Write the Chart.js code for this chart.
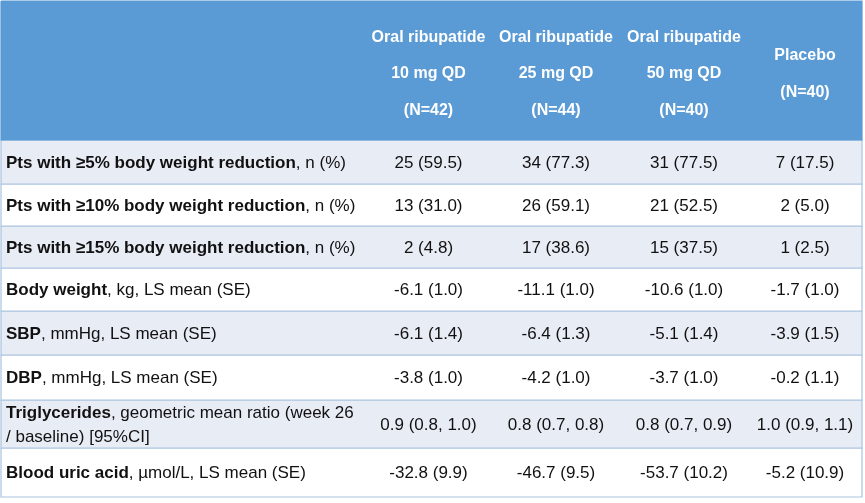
<!DOCTYPE html>
<html>
<head>
<meta charset="utf-8">
<script src="https://cdn.jsdelivr.net/npm/chart.js@4.4.1/dist/chart.umd.min.js"></script>
<style>
  html, body { margin: 0; padding: 0; background: #ffffff; }
  #wrap { width: 865px; height: 503px; }
</style>
</head>
<body>
<div id="wrap"><canvas id="chart"></canvas></div>
<script>
// table content
const armNames = ["Oral ribupatide", "Oral ribupatide", "Oral ribupatide", "Placebo"];
const armDoses = ["10 mg QD", "25 mg QD", "50 mg QD", ""];
const armN = [42, 44, 40, 40];

const rowBold = [
    "Pts with \u22655% body weight reduction",
    "Pts with \u226510% body weight reduction",
    "Pts with \u226515% body weight reduction",
    "Body weight",
    "SBP",
    "DBP",
    "Triglycerides",
    "Blood uric acid"
];
const rowRest = [
    ", n (%)",
    ", n (%)",
    ", n (%)",
    ", kg, LS mean (SE)",
    ", mmHg, LS mean (SE)",
    ", mmHg, LS mean (SE)",
    ", geometric mean ratio (week 26|/ baseline) [95%CI]",
    ", \u00b5mol/L, LS mean (SE)"
];

const dose10 = ["25 (59.5)", "13 (31.0)", "2 (4.8)", "-6.1 (1.0)", "-6.1 (1.4)", "-3.8 (1.0)", "0.9 (0.8, 1.0)", "-32.8 (9.9)"];
const dose25 = ["34 (77.3)", "26 (59.1)", "17 (38.6)", "-11.1 (1.0)", "-6.4 (1.3)", "-4.2 (1.0)", "0.8 (0.7, 0.8)", "-46.7 (9.5)"];
const dose50 = ["31 (77.5)", "21 (52.5)", "15 (37.5)", "-10.6 (1.0)", "-5.1 (1.4)", "-3.7 (1.0)", "0.8 (0.7, 0.9)", "-53.7 (10.2)"];
const placebo = ["7 (17.5)", "2 (5.0)", "1 (2.5)", "-1.7 (1.0)", "-3.9 (1.5)", "-0.2 (1.1)", "1.0 (0.9, 1.1)", "-5.2 (10.9)"];

// layout (in scale units = px)
const colEdges = [1, 365, 492, 620, 748, 862];
const rowEdges = [1, 140, 184, 226, 268, 311, 355, 400, 448, 497];

const FONT = "'Liberation Sans', Arial, sans-serif";
const HEADER_BLUE = "#5a9ad5";
const STRIPE = "#e8ecf5";
const GRID = "#a9c3df";

const valueCols = [dose10, dose25, dose50, placebo];

// one closed polygon per table row
function rowShape(i) {
    const x0 = colEdges[0], x1 = colEdges[colEdges.length - 1];
    const y0 = rowEdges[i], y1 = rowEdges[i + 1];
    return [{x: x0, y: y0}, {x: x1, y: y0}, {x: x1, y: y1}, {x: x0, y: y1}, {x: x0, y: y0}];
}

const datasets = [];
for (let i = 0; i < rowEdges.length - 1; i++) {
    let bg = "#ffffff";
    if (i === 0) bg = HEADER_BLUE;
    else if (i % 2 === 1) bg = STRIPE;
    datasets.push({
        data: rowShape(i),
        backgroundColor: bg,
        borderColor: i === 0 ? HEADER_BLUE : GRID,
        borderWidth: 1.2,
        fill: "shape",
        pointRadius: 0,
        tension: 0
    });
}

const textPlugin = {
    id: "cellText",
    afterDatasetsDraw(chart) {
        const ctx = chart.ctx;
        const xs = chart.scales.x, ys = chart.scales.y;
        ctx.save();
        ctx.textBaseline = "middle";

        // header
        ctx.fillStyle = "#ffffff";
        ctx.textAlign = "center";
        ctx.font = "bold 16px " + FONT;
        for (let c = 0; c < armNames.length; c++) {
            const cx = xs.getPixelForValue((colEdges[c + 1] + colEdges[c + 2]) / 2);
            const lines = [armNames[c]];
            if (armDoses[c]) lines.push(armDoses[c]);
            lines.push("(N=" + armN[c] + ")");
            const mid = ys.getPixelForValue((rowEdges[0] + rowEdges[1]) / 2 + 3.5);
            const gap = 36.5;
            lines.forEach((t, k) => {
                ctx.fillText(t, cx, mid + (k - (lines.length - 1) / 2) * gap);
            });
        }

        // body
        ctx.fillStyle = "#111111";
        for (let r = 0; r < rowBold.length; r++) {
            const mid = ys.getPixelForValue((rowEdges[r + 1] + rowEdges[r + 2]) / 2 + 1);
            const parts = rowRest[r].split("|");
            const lineGap = 24;
            const y0 = mid - (parts.length - 1) * lineGap / 2;
            const lx = xs.getPixelForValue(colEdges[0] + 5);
            ctx.textAlign = "left";
            ctx.font = "bold 17px " + FONT;
            ctx.fillText(rowBold[r], lx, y0);
            const w = ctx.measureText(rowBold[r]).width;
            ctx.font = "17px " + FONT;
            ctx.fillText(parts[0], lx + w, y0);
            for (let k = 1; k < parts.length; k++) {
                ctx.fillText(parts[k], lx, y0 + k * lineGap);
            }
            ctx.textAlign = "center";
            for (let c = 0; c < valueCols.length; c++) {
                const cx = xs.getPixelForValue((colEdges[c + 1] + colEdges[c + 2]) / 2);
                ctx.fillText(valueCols[c][r], cx, mid);
            }
        }
        ctx.restore();
    }
};

new Chart(document.getElementById("chart").getContext("2d"), {
    type: "line",
    data: { datasets: datasets },
    options: {
        responsive: true,
        maintainAspectRatio: false,
        animation: false,
        layout: { padding: 0 },
        plugins: { legend: { display: false }, tooltip: { enabled: false } },
        scales: {
            x: { type: "linear", min: 0, max: 865, display: false },
            y: { type: "linear", min: 0, max: 503, reverse: true, display: false }
        },
        elements: { line: { borderJoinStyle: "miter" } }
    },
    plugins: [textPlugin]
});
</script>
</body>
</html>
